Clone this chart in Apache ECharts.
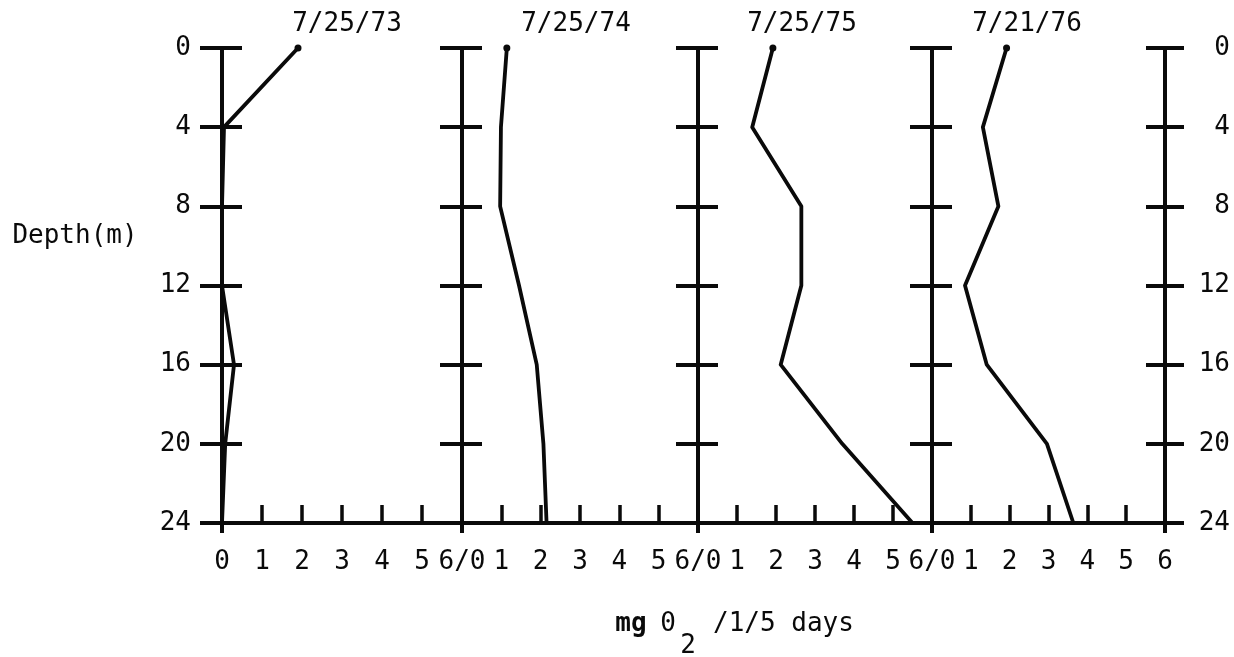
<!DOCTYPE html>
<html>
<head>
<meta charset="utf-8">
<script src="https://cdn.jsdelivr.net/npm/echarts@6/dist/echarts.min.js"></script>
<style>
  html, body { margin: 0; padding: 0; background: #fff; }
  #chart { width: 1234px; height: 657px; }
</style>
</head>
<body>
<div id="chart"></div>
<script>
// ---- data ----
const depths = [0, 4, 8, 12, 16, 20, 24];
const oxy73 = [1.9, 0.05, 0, 0, 0.3, 0.08, 0];
const oxy74 = [1.14, 0.99, 0.97, 1.45, 1.9, 2.07, 2.15];
const oxy75 = [1.92, 1.39, 2.65, 2.65, 2.12, 3.7, 5.5];
const oxy76 = [1.92, 1.31, 1.71, 0.85, 1.41, 2.96, 3.64];
const panelTitles = ['7/25/73', '7/25/74', '7/25/75', '7/21/76'];
const depthTicks = [0, 4, 8, 12, 16, 20, 24];
const xTickValues = [0, 1, 2, 3, 4, 5, 6];
const yName = 'Depth(m)';
const xNameParts = ['mg', '0', '2', '/1/5 days'];

const seriesValues = [oxy73, oxy74, oxy75, oxy76];

// ---- layout ----
const FONT = "'DejaVu Sans Mono', 'Liberation Mono', monospace";
const panels = [
  { left: 222, width: 240, titleX: 347 },
  { left: 462, width: 236, titleX: 576 },
  { left: 698, width: 234, titleX: 802 },
  { left: 932, width: 233, titleX: 1027 }
];
const TOP = 48, HEIGHT = 475;
const BLACK = '#0a0a0a';

const grids = panels.map(p => ({ left: p.left, width: p.width, top: TOP, height: HEIGHT }));

const labelFmt = [
  v => (v === 6 ? '6/0' : String(v)),
  v => (v === 0 ? '' : v === 6 ? '6/0' : String(v)),
  v => (v === 0 ? '' : v === 6 ? '6/0' : String(v)),
  v => (v === 0 ? '' : String(v))
];

const xAxes = [];
const yAxes = [];
panels.forEach((p, i) => {
  xAxes.push({
    gridIndex: i, type: 'value', min: 0, max: xTickValues[xTickValues.length - 1], interval: 1,
    position: 'bottom',
    axisLine: { show: true, onZero: false, lineStyle: { color: BLACK, width: 4 } },
    axisTick: { show: true, inside: true, length: 18, lineStyle: { color: BLACK, width: 3.5 } },
    axisLabel: {
      show: true, margin: 26, formatter: labelFmt[i], showMinLabel: true, showMaxLabel: true,
      color: BLACK, fontFamily: FONT, fontSize: 26
    },
    splitLine: { show: false }
  });
  xAxes.push({
    gridIndex: i, type: 'value', min: 0, max: 6, interval: 1, position: 'bottom',
    axisLine: { show: false, onZero: false },
    axisTick: { show: true, inside: false, length: 10, customValues: [0, 6], lineStyle: { color: BLACK, width: 4 } },
    axisLabel: { show: false },
    splitLine: { show: false }
  });
  yAxes.push({
    gridIndex: i, type: 'value', inverse: true, min: 0, max: 24, interval: 4, position: 'left',
    axisLine: { show: true, onZero: false, lineStyle: { color: BLACK, width: 4 } },
    axisTick: { show: true, inside: false, length: 22, lineStyle: { color: BLACK, width: 4 } },
    axisLabel: {
      show: i === 0, margin: 31, padding: [0, 0, 10, 0], customValues: depthTicks,
      color: BLACK, fontFamily: FONT, fontSize: 26
    },
    splitLine: { show: false }
  });
  yAxes.push({
    gridIndex: i, type: 'value', inverse: true, min: 0, max: 24, interval: 4, position: 'left',
    axisLine: { show: false, onZero: false },
    axisTick: { show: true, inside: true, length: 20, lineStyle: { color: BLACK, width: 4 } },
    axisLabel: { show: false },
    splitLine: { show: false }
  });
});
// right-hand depth axis on the last panel
yAxes.push({
  gridIndex: 3, type: 'value', inverse: true, min: 0, max: 24, interval: 4, position: 'right',
  axisLine: { show: true, onZero: false, lineStyle: { color: BLACK, width: 4 } },
  axisTick: { show: true, inside: false, length: 19, lineStyle: { color: BLACK, width: 4 } },
  axisLabel: {
    show: true, margin: 65, align: 'right', padding: [0, 0, 10, 0],
    color: BLACK, fontFamily: FONT, fontSize: 26
  },
  splitLine: { show: false }
});
yAxes.push({
  gridIndex: 3, type: 'value', inverse: true, min: 0, max: 24, interval: 4, position: 'right',
  axisLine: { show: false, onZero: false },
  axisTick: { show: true, inside: true, length: 19, lineStyle: { color: BLACK, width: 4 } },
  axisLabel: { show: false },
  splitLine: { show: false }
});

const series = seriesValues.map((vals, i) => ({
  type: 'line',
  xAxisIndex: 2 * i,
  yAxisIndex: 2 * i,
  data: depths.map((d, k) => [vals[k], d]),
  symbol: 'circle',
  symbolSize: (v, params) => (params.dataIndex === 0 ? 7 : 0),
  itemStyle: { color: BLACK },
  lineStyle: { color: BLACK, width: 3.8, cap: 'round', join: 'round' },
  silent: true,
  z: 5
}));

const textStyle = (extra) => Object.assign({ fill: BLACK, fontFamily: FONT, fontSize: 26, align: 'center', verticalAlign: 'middle' }, extra);
const graphics = panels.map((p, i) => ({
  type: 'text', x: p.titleX, y: 24, style: textStyle({ text: panelTitles[i] })
}));
graphics.push({ type: 'text', x: 75, y: 236, style: textStyle({ text: yName }) });
graphics.push({ type: 'text', x: 631, y: 624, style: textStyle({ text: xNameParts[0], fontWeight: 'bold' }) });
graphics.push({ type: 'text', x: 668, y: 624, style: textStyle({ text: xNameParts[1] }) });
graphics.push({ type: 'text', x: 688, y: 646, style: textStyle({ text: xNameParts[2] }) });
graphics.push({ type: 'text', x: 713, y: 624, style: textStyle({ text: xNameParts[3], align: 'left' }) });

const chart = echarts.init(document.getElementById('chart'), null, { renderer: 'canvas' });
chart.setOption({
  backgroundColor: '#fff',
  animation: false,
  grid: grids,
  xAxis: xAxes,
  yAxis: yAxes,
  series: series,
  graphic: graphics
});
</script>
</body>
</html>
